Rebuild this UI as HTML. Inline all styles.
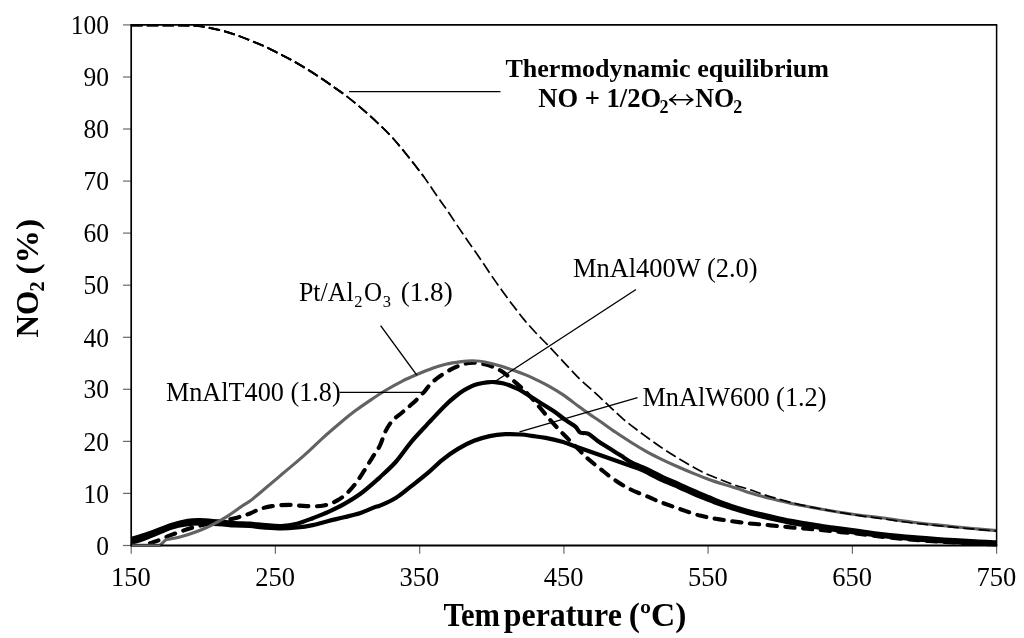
<!DOCTYPE html>
<html><head><meta charset="utf-8"><title>NO2 chart</title>
<style>
html,body{margin:0;padding:0;background:#fff;}
body{width:1024px;height:638px;overflow:hidden;}
svg{display:block;filter:grayscale(1);}
text{font-family:"Liberation Serif",serif;fill:#000;}
.tk{font-size:25px;}
.lb{font-size:25px;}
.bd{font-weight:bold;}
</style></head><body>
<svg width="1024" height="638" viewBox="0 0 1024 638">
<rect width="1024" height="638" fill="#fff"/>
<line x1="123" y1="545.5" x2="131.2" y2="545.5" stroke="#6a6a6a" stroke-width="1.2"/>
<line x1="123" y1="493.4" x2="131.2" y2="493.4" stroke="#6a6a6a" stroke-width="1.2"/>
<line x1="123" y1="441.4" x2="131.2" y2="441.4" stroke="#6a6a6a" stroke-width="1.2"/>
<line x1="123" y1="389.3" x2="131.2" y2="389.3" stroke="#6a6a6a" stroke-width="1.2"/>
<line x1="123" y1="337.3" x2="131.2" y2="337.3" stroke="#6a6a6a" stroke-width="1.2"/>
<line x1="123" y1="285.2" x2="131.2" y2="285.2" stroke="#6a6a6a" stroke-width="1.2"/>
<line x1="123" y1="233.1" x2="131.2" y2="233.1" stroke="#6a6a6a" stroke-width="1.2"/>
<line x1="123" y1="181.1" x2="131.2" y2="181.1" stroke="#6a6a6a" stroke-width="1.2"/>
<line x1="123" y1="129.0" x2="131.2" y2="129.0" stroke="#6a6a6a" stroke-width="1.2"/>
<line x1="123" y1="77.0" x2="131.2" y2="77.0" stroke="#6a6a6a" stroke-width="1.2"/>
<line x1="123" y1="24.9" x2="131.2" y2="24.9" stroke="#6a6a6a" stroke-width="1.2"/>
<line x1="131.2" y1="545.5" x2="131.2" y2="553.7" stroke="#6a6a6a" stroke-width="1.2"/>
<line x1="275.4" y1="545.5" x2="275.4" y2="553.7" stroke="#6a6a6a" stroke-width="1.2"/>
<line x1="419.7" y1="545.5" x2="419.7" y2="553.7" stroke="#6a6a6a" stroke-width="1.2"/>
<line x1="563.9" y1="545.5" x2="563.9" y2="553.7" stroke="#6a6a6a" stroke-width="1.2"/>
<line x1="708.1" y1="545.5" x2="708.1" y2="553.7" stroke="#6a6a6a" stroke-width="1.2"/>
<line x1="852.4" y1="545.5" x2="852.4" y2="553.7" stroke="#6a6a6a" stroke-width="1.2"/>
<line x1="996.6" y1="545.5" x2="996.6" y2="553.7" stroke="#6a6a6a" stroke-width="1.2"/>
<g fill="none" stroke-linejoin="round">
<path d="M131.5,543.0C134.3,542.0 141.8,539.6 148.5,537.0C155.2,534.4 165.5,529.6 172.0,527.5C178.5,525.4 183.0,524.9 187.7,524.2C192.4,523.5 194.8,523.5 200.0,523.5C205.2,523.5 213.2,523.9 219.0,524.2C224.8,524.5 229.5,525.2 234.7,525.5C239.9,525.8 244.8,525.6 250.0,526.0C255.2,526.4 260.5,527.2 265.7,527.6C270.9,528.0 276.1,528.4 281.3,528.4C286.5,528.4 291.8,528.0 297.0,527.5C302.2,527.0 307.5,526.2 312.7,525.1C317.9,524.0 323.2,522.3 328.4,521.0C333.6,519.7 338.8,518.6 344.0,517.3C349.2,516.0 354.5,515.0 359.7,513.3C364.9,511.6 372.0,508.2 375.4,506.9C378.8,505.6 376.6,507.2 380.0,505.7C383.4,504.2 390.5,501.2 395.7,498.0C400.9,494.8 406.1,490.2 411.3,486.2C416.5,482.1 421.8,478.1 427.0,473.7C432.2,469.3 437.5,463.8 442.7,459.6C447.9,455.4 453.2,451.7 458.4,448.6C463.6,445.5 468.8,442.9 474.0,440.8C479.2,438.7 484.5,437.2 489.7,436.1C494.9,435.0 500.2,434.5 505.4,434.2C510.6,433.9 516.6,434.2 521.0,434.5C525.4,434.8 527.8,435.3 531.9,435.9C536.0,436.5 540.8,437.0 545.7,437.9C550.6,438.8 556.1,440.0 561.3,441.5C566.5,443.0 571.8,445.2 577.0,447.0C582.2,448.8 587.5,450.7 592.7,452.5C597.9,454.3 603.2,456.2 608.4,458.0C613.6,459.8 618.8,461.7 624.0,463.5C629.2,465.3 635.4,467.2 639.7,469.0C644.0,470.8 646.1,472.1 650.0,474.0C653.9,475.9 658.4,478.5 663.2,480.7C668.0,482.9 673.8,485.0 678.9,487.2C684.0,489.4 688.9,491.8 694.0,494.0C699.1,496.2 706.1,498.7 709.7,500.2C713.3,501.7 712.1,501.5 715.7,502.8C719.3,504.1 726.1,506.4 731.3,508.0C736.5,509.6 741.8,511.3 747.0,512.7C752.2,514.1 757.5,515.4 762.7,516.6C767.9,517.9 773.2,519.1 778.4,520.2C783.6,521.3 788.8,522.4 794.0,523.4C799.2,524.4 804.5,525.1 809.7,526.0C814.9,526.9 820.2,527.9 825.4,528.7C830.6,529.5 835.3,530.0 841.0,530.7C846.7,531.4 853.1,532.2 859.8,533.1C866.5,534.0 872.5,535.0 881.3,536.0C890.1,537.0 902.2,538.3 912.7,539.2C923.2,540.1 933.5,540.8 944.0,541.5C954.5,542.2 966.6,542.9 975.4,543.4C984.2,543.9 993.2,544.1 996.8,544.3" stroke="#000" stroke-width="4.2"/>
<path d="M131.5,539.0C134.3,538.1 141.8,535.9 148.5,533.5C155.2,531.1 165.5,526.8 172.0,524.7C178.5,522.6 183.0,521.6 187.7,520.8C192.4,520.0 194.8,519.9 200.0,520.0C205.2,520.1 213.2,521.1 219.0,521.6C224.8,522.1 229.5,522.6 234.7,523.0C239.9,523.4 244.8,523.3 250.0,523.7C255.2,524.1 260.5,524.8 265.7,525.2C270.9,525.6 276.1,526.2 281.3,526.0C286.5,525.8 291.8,525.0 297.0,523.7C302.2,522.4 307.5,520.2 312.7,518.2C317.9,516.2 323.2,514.2 328.4,511.9C333.6,509.5 338.8,507.0 344.0,504.1C349.2,501.2 354.5,498.1 359.7,494.3C364.9,490.5 372.0,484.2 375.4,481.3C378.8,478.4 376.6,480.4 380.0,477.2C383.4,474.0 390.5,467.9 395.7,462.0C400.9,456.1 406.1,448.1 411.3,441.9C416.5,435.7 423.6,428.4 427.0,424.7C430.4,421.0 428.5,423.0 431.6,419.7C434.7,416.4 441.9,408.7 445.7,405.0C449.4,401.3 451.1,399.9 454.1,397.5C457.1,395.1 460.6,392.5 463.5,390.6C466.4,388.7 468.7,387.5 471.3,386.3C473.9,385.1 476.6,384.4 479.2,383.7C481.8,383.0 484.4,382.6 487.0,382.3C489.6,382.0 492.3,381.9 494.9,382.1C497.5,382.3 500.1,382.7 502.7,383.3C505.3,383.9 507.9,384.7 510.5,385.7C513.1,386.7 516.1,388.1 518.4,389.2C520.6,390.3 520.5,390.3 524.0,392.5C527.5,394.7 534.6,399.1 539.5,402.2C544.4,405.3 549.1,408.0 553.5,411.0C557.9,414.0 562.4,417.8 566.0,420.4C569.6,423.0 573.0,424.6 575.4,426.6C577.8,428.6 578.0,431.3 580.1,432.5C582.2,433.7 585.1,432.3 588.0,433.7C590.9,435.1 594.0,438.3 597.4,440.7C600.8,443.1 604.5,445.3 608.4,447.8C612.3,450.3 617.0,453.1 620.9,455.6C624.8,458.1 627.5,460.4 631.9,462.7C636.3,465.0 642.3,466.9 647.5,469.4C652.7,471.8 658.0,474.9 663.2,477.4C668.4,479.8 673.8,481.8 678.9,484.1C684.0,486.4 688.9,488.8 694.0,491.0C699.1,493.2 706.1,496.0 709.7,497.5C713.3,499.0 712.1,498.8 715.7,500.2C719.3,501.6 726.1,504.2 731.3,506.0C736.5,507.8 741.8,509.3 747.0,510.7C752.2,512.1 757.5,513.4 762.7,514.6C767.9,515.9 773.2,517.1 778.4,518.2C783.6,519.3 788.8,520.4 794.0,521.4C799.2,522.4 804.5,523.1 809.7,524.0C814.9,524.9 820.2,525.9 825.4,526.7C830.6,527.5 835.3,528.0 841.0,528.7C846.7,529.4 853.1,530.2 859.8,531.1C866.5,532.0 872.5,533.0 881.3,534.0C890.1,535.0 902.2,536.3 912.7,537.2C923.2,538.1 933.5,538.8 944.0,539.5C954.5,540.2 966.6,540.9 975.4,541.4C984.2,541.9 993.2,542.1 996.8,542.3" stroke="#000" stroke-width="4.2"/>
<clipPath id="cA"><rect x="0" y="0" width="214" height="638"/></clipPath><clipPath id="cB"><rect x="214" y="0" width="810" height="638"/></clipPath>
<path d="M145.0,544.5C146.9,543.9 151.8,542.5 156.3,540.9C160.8,539.3 166.0,536.9 172.0,534.7C178.0,532.5 185.6,529.6 192.4,527.6C199.2,525.6 205.8,524.5 212.8,522.9C219.9,521.3 228.5,519.8 234.7,518.2C240.9,516.6 245.9,515.0 250.0,513.5C254.1,512.0 255.7,510.4 259.4,509.2C263.0,508.0 266.9,506.8 271.9,506.1C276.9,505.4 283.4,504.9 289.2,504.9C294.9,504.9 300.6,506.0 306.4,506.1C312.1,506.2 318.5,506.6 323.7,505.6C328.9,504.6 333.6,502.5 337.8,500.1C342.0,497.8 345.6,494.5 348.7,491.5C351.8,488.5 354.0,485.6 356.6,482.1C359.2,478.6 361.8,474.4 364.4,470.4C367.0,466.3 369.6,461.9 372.2,457.8C374.8,453.7 377.7,450.0 379.9,445.6C382.1,441.2 383.3,435.7 385.4,431.5C387.5,427.3 389.8,423.6 392.5,420.5C395.2,417.4 398.5,415.6 401.9,412.7C405.3,409.8 409.1,406.7 412.8,403.3C416.5,399.9 420.9,395.4 423.8,392.3C426.7,389.2 427.5,387.1 430.1,384.5C432.7,381.9 435.6,379.2 439.5,376.5C443.4,373.8 448.6,370.5 453.5,368.2C458.4,365.9 464.0,363.5 469.2,362.9C474.4,362.2 479.7,363.0 484.9,364.3C490.1,365.6 495.3,367.5 500.5,370.6C505.7,373.7 511.8,379.3 516.2,383.1C520.7,386.9 523.3,389.2 527.2,393.3C531.1,397.4 535.6,402.6 539.7,407.4C543.8,412.2 547.8,417.2 551.9,421.9C556.0,426.5 560.3,431.0 564.5,435.3C568.7,439.6 573.1,443.9 577.0,447.8C580.9,451.7 584.1,455.3 588.0,458.8C591.9,462.3 596.1,465.5 600.5,469.0C604.9,472.5 609.6,476.5 614.6,479.9C619.6,483.3 624.5,486.4 630.3,489.3C636.0,492.2 644.1,495.1 649.1,497.2C654.1,499.3 655.1,500.0 660.3,502.0C665.5,504.0 673.8,506.9 680.4,509.2C687.0,511.5 694.1,514.0 700.0,515.6C705.9,517.2 710.5,517.9 715.7,518.8C720.9,519.7 726.1,520.4 731.3,521.1C736.5,521.8 741.8,522.6 747.0,523.2C752.2,523.8 757.5,524.1 762.7,524.6C767.9,525.1 773.2,525.6 778.4,526.1C783.6,526.6 788.8,527.2 794.0,527.7C799.2,528.2 804.5,528.5 809.7,529.0C814.9,529.5 820.2,530.0 825.4,530.5C830.6,531.0 835.3,531.5 841.0,532.1C846.7,532.7 853.1,533.2 859.8,534.0C866.5,534.8 872.5,535.7 881.3,536.7C890.1,537.7 902.2,538.9 912.7,539.8C923.2,540.7 933.5,541.4 944.0,542.0C954.5,542.6 966.6,543.2 975.4,543.6C984.2,544.0 993.2,544.2 996.8,544.3" stroke="#000" stroke-width="4.1" stroke-dasharray="9.3 8.5" stroke-linecap="round" clip-path="url(#cB)"/>
<path d="M150.0,543.3C151.1,542.9 152.6,542.6 156.3,541.2C160.0,539.8 166.0,537.0 172.0,534.7C178.0,532.4 185.6,529.6 192.4,527.6C199.2,525.6 205.8,524.5 212.8,522.9C219.9,521.3 231.0,519.0 234.7,518.2" stroke="#000" stroke-width="4.1" stroke-dasharray="9.3 8.5" stroke-linecap="round" clip-path="url(#cA)"/>
<path d="M131.5,545.4 L160.0,545.4 L165.7,539.8 L165.7,539.8C168.1,539.3 174.9,538.3 179.9,537.0C184.9,535.7 190.3,534.0 195.5,532.0C200.7,530.0 206.0,527.9 211.2,525.3C216.4,522.7 221.7,519.9 226.9,516.6C232.1,513.3 238.7,508.3 242.5,505.7C246.3,503.1 246.1,503.9 250.0,501.0C253.9,498.1 260.5,492.4 265.7,488.0C270.9,483.6 276.1,479.2 281.3,474.8C286.5,470.4 292.3,465.6 297.0,461.6C301.7,457.6 305.0,454.7 309.4,450.6C313.8,446.6 318.5,441.8 323.5,437.3C328.5,432.8 334.0,428.1 339.2,423.7C344.4,419.3 349.7,415.0 354.9,411.1C360.1,407.2 365.3,403.6 370.5,400.1C375.7,396.6 381.0,393.1 386.2,390.0C391.4,386.9 396.7,383.9 401.9,381.3C407.1,378.7 412.3,376.5 417.5,374.3C422.7,372.1 428.5,369.7 433.2,368.0C437.9,366.3 441.0,365.4 445.7,364.3C450.4,363.2 456.9,362.2 461.3,361.6C465.7,361.0 468.4,360.8 472.3,360.8C476.2,360.9 480.2,361.0 484.9,361.9C489.6,362.8 495.3,364.3 500.5,365.9C505.7,367.5 511.0,369.4 516.2,371.3C521.4,373.2 526.7,375.2 531.9,377.6C537.1,380.0 542.3,382.5 547.5,385.4C552.7,388.3 558.0,391.4 563.2,394.9C568.4,398.4 574.5,403.4 578.9,406.6C583.3,409.9 586.3,412.0 589.8,414.4C593.3,416.8 595.7,418.2 600.0,421.2C604.3,424.2 610.5,428.8 615.7,432.3C620.9,435.9 626.1,439.2 631.3,442.5C636.5,445.8 641.8,448.9 647.0,451.8C652.2,454.7 657.5,457.3 662.7,459.8C667.9,462.3 673.2,464.7 678.4,467.0C683.6,469.3 688.8,471.5 694.0,473.6C699.2,475.7 704.5,477.8 709.7,479.7C714.9,481.6 720.2,483.2 725.4,484.9C730.6,486.6 737.4,488.6 741.0,489.8C744.6,491.0 743.4,491.0 747.0,492.1C750.6,493.2 757.5,495.0 762.7,496.4C767.9,497.8 773.2,499.1 778.4,500.4C783.6,501.6 788.8,502.8 794.0,503.9C799.2,505.0 804.5,506.0 809.7,507.0C814.9,508.0 820.2,508.9 825.4,509.8C830.6,510.7 835.3,511.6 841.0,512.5C846.7,513.4 853.1,514.3 859.8,515.2C866.5,516.1 872.5,516.6 881.3,517.8C890.1,519.0 902.2,520.9 912.7,522.2C923.2,523.5 933.5,524.5 944.0,525.6C954.5,526.7 966.6,528.0 975.4,528.8C984.2,529.6 993.2,530.3 996.8,530.6" stroke="#626262" stroke-width="3.1"/>
<path d="M131.5,25.4C137.9,25.4 160.2,25.4 170.0,25.4C179.8,25.4 184.8,25.5 190.0,25.6C195.2,25.8 195.8,25.5 201.2,26.3C206.6,27.1 216.3,29.2 222.3,30.7C228.3,32.2 232.4,33.7 237.2,35.4C242.0,37.1 246.5,38.9 251.3,40.9C256.1,42.9 261.4,44.9 266.2,47.1C271.0,49.3 275.7,51.9 280.3,54.2C284.9,56.6 289.2,58.7 293.6,61.2C298.0,63.7 302.4,66.3 306.9,69.1C311.3,71.8 316.0,74.8 320.3,77.7C324.6,80.6 328.6,83.3 332.8,86.3C337.0,89.3 340.9,91.8 345.7,95.5C350.4,99.2 356.1,103.7 361.3,108.2C366.5,112.7 371.8,117.3 377.0,122.3C382.2,127.3 387.5,132.2 392.7,138.0C397.9,143.8 403.2,150.3 408.4,156.8C413.6,163.3 419.4,170.7 424.0,177.0C428.6,183.3 432.2,189.0 436.0,194.5C439.8,200.0 443.3,204.8 447.0,210.1C450.7,215.4 454.3,221.1 458.0,226.6C461.7,232.1 465.4,237.6 469.2,243.0C472.9,248.4 476.8,253.8 480.5,259.2C484.2,264.6 487.7,270.0 491.3,275.3C494.9,280.6 498.6,285.8 502.3,290.9C506.0,296.0 509.6,301.0 513.3,305.8C517.0,310.6 520.6,315.4 524.3,319.9C528.0,324.3 531.5,328.2 535.5,332.5C539.5,336.8 543.5,340.5 548.2,345.5C552.9,350.5 558.7,356.8 563.9,362.3C569.1,367.9 574.4,373.7 579.6,378.8C584.8,383.9 590.2,388.3 595.2,392.9C600.2,397.5 604.8,401.9 609.5,406.3C614.2,410.7 618.5,415.1 623.5,419.3C628.5,423.5 634.0,427.6 639.2,431.5C644.4,435.4 649.7,439.3 654.9,443.0C660.1,446.7 665.3,450.2 670.5,453.5C675.7,456.8 681.0,459.9 686.2,463.0C691.4,466.1 696.7,469.2 701.9,471.8C707.1,474.4 712.3,476.3 717.5,478.4C722.7,480.5 728.0,482.7 733.2,484.5C738.4,486.3 744.0,487.7 748.9,489.3C753.8,490.9 757.8,492.6 762.7,494.2C767.6,495.8 773.2,497.5 778.4,499.0C783.6,500.5 788.8,501.9 794.0,503.2C799.2,504.5 804.5,505.7 809.7,506.8C814.9,507.9 820.2,508.8 825.4,509.8C830.6,510.8 835.3,511.7 841.0,512.7C846.7,513.7 853.1,514.7 859.8,515.7C866.5,516.7 872.5,517.4 881.3,518.6C890.1,519.8 902.2,521.7 912.7,523.0C923.2,524.3 933.5,525.2 944.0,526.3C954.5,527.3 966.6,528.5 975.4,529.3C984.2,530.1 993.2,530.7 996.8,531.0" stroke="#000" stroke-width="1.7" stroke-dasharray="11.3 4.2"/>
<path d="M131.5,25.4C137.9,25.4 160.2,25.4 170.0,25.4C179.8,25.4 184.8,25.5 190.0,25.6C195.2,25.8 195.8,25.5 201.2,26.3C206.6,27.1 216.3,29.2 222.3,30.7C228.3,32.2 232.4,33.7 237.2,35.4C242.0,37.1 246.5,38.9 251.3,40.9C256.1,42.9 261.4,44.9 266.2,47.1C271.0,49.3 275.7,51.9 280.3,54.2C284.9,56.6 289.2,58.7 293.6,61.2C298.0,63.7 302.4,66.3 306.9,69.1C311.3,71.8 316.0,74.8 320.3,77.7C324.6,80.6 328.6,83.3 332.8,86.3C337.0,89.3 340.9,91.8 345.7,95.5C350.4,99.2 356.1,103.7 361.3,108.2C366.5,112.7 371.8,117.3 377.0,122.3C382.2,127.3 387.5,132.2 392.7,138.0C397.9,143.8 403.2,150.3 408.4,156.8C413.6,163.3 421.4,173.6 424.0,177.0" stroke="#000" stroke-width="1.85" stroke-dasharray="11.3 4.2"/>
<path d="M131.5,25.4C137.9,25.4 160.2,25.4 170.0,25.4C179.8,25.4 184.8,25.5 190.0,25.6C195.2,25.8 195.8,25.5 201.2,26.3C206.6,27.1 216.3,29.2 222.3,30.7C228.3,32.2 232.4,33.7 237.2,35.4C242.0,37.1 246.5,38.9 251.3,40.9C256.1,42.9 261.4,44.9 266.2,47.1C271.0,49.3 275.7,51.9 280.3,54.2C284.9,56.6 289.2,58.7 293.6,61.2C298.0,63.7 302.4,66.3 306.9,69.1C311.3,71.8 316.0,74.8 320.3,77.7C324.6,80.6 328.6,83.3 332.8,86.3C337.0,89.3 343.6,94.0 345.7,95.5" stroke="#000" stroke-width="2.00" stroke-dasharray="11.3 4.2"/>
</g>
<g stroke="#000" fill="none">
<line x1="130.4" y1="24.9" x2="997.3" y2="24.9" stroke-width="1.8"/>
<line x1="130.4" y1="545.5" x2="997.3" y2="545.5" stroke-width="1.9"/>
<line x1="131.2" y1="24.9" x2="131.2" y2="545.5" stroke-width="1.7"/>
<line x1="996.6" y1="24.9" x2="996.6" y2="545.5" stroke-width="1.5"/>
<line x1="132" y1="545.6" x2="160.5" y2="545.6" stroke="#6a6a6a" stroke-width="1.6"/>
<g stroke-width="1.4">
<line x1="349.1" y1="91.6" x2="500.5" y2="91.6"/>
<line x1="380.6" y1="325.6" x2="416.8" y2="375.1"/>
<line x1="339.5" y1="392.4" x2="423.8" y2="392.4"/>
<line x1="636.0" y1="289.5" x2="495.0" y2="381.5"/>
<line x1="637.5" y1="397.6" x2="519.5" y2="431.8"/>
</g></g>
<text x="96.15" y="554.7" class="tk" textLength="12.75" lengthAdjust="spacingAndGlyphs" transform="matrix(1 0 0 1.120 0 -66.564)">0</text>
<text x="83.40" y="502.6" class="tk" textLength="25.50" lengthAdjust="spacingAndGlyphs" transform="matrix(1 0 0 1.120 0 -60.317)">10</text>
<text x="83.40" y="450.6" class="tk" textLength="25.50" lengthAdjust="spacingAndGlyphs" transform="matrix(1 0 0 1.120 0 -54.070)">20</text>
<text x="83.40" y="398.5" class="tk" textLength="25.50" lengthAdjust="spacingAndGlyphs" transform="matrix(1 0 0 1.120 0 -47.822)">30</text>
<text x="83.40" y="346.5" class="tk" textLength="25.50" lengthAdjust="spacingAndGlyphs" transform="matrix(1 0 0 1.120 0 -41.575)">40</text>
<text x="83.40" y="294.4" class="tk" textLength="25.50" lengthAdjust="spacingAndGlyphs" transform="matrix(1 0 0 1.120 0 -35.328)">50</text>
<text x="83.40" y="242.3" class="tk" textLength="25.50" lengthAdjust="spacingAndGlyphs" transform="matrix(1 0 0 1.120 0 -29.081)">60</text>
<text x="83.40" y="190.3" class="tk" textLength="25.50" lengthAdjust="spacingAndGlyphs" transform="matrix(1 0 0 1.120 0 -22.834)">70</text>
<text x="83.40" y="138.2" class="tk" textLength="25.50" lengthAdjust="spacingAndGlyphs" transform="matrix(1 0 0 1.120 0 -16.586)">80</text>
<text x="83.40" y="86.2" class="tk" textLength="25.50" lengthAdjust="spacingAndGlyphs" transform="matrix(1 0 0 1.120 0 -10.339)">90</text>
<text x="70.65" y="34.1" class="tk" textLength="38.25" lengthAdjust="spacingAndGlyphs" transform="matrix(1 0 0 1.120 0 -4.092)">100</text>
<text x="111.02" y="585.7" class="tk" textLength="39.75" lengthAdjust="spacingAndGlyphs" transform="matrix(1 0 0 1.120 0 -70.284)">150</text>
<text x="255.26" y="585.7" class="tk" textLength="39.75" lengthAdjust="spacingAndGlyphs" transform="matrix(1 0 0 1.120 0 -70.284)">250</text>
<text x="399.49" y="585.7" class="tk" textLength="39.75" lengthAdjust="spacingAndGlyphs" transform="matrix(1 0 0 1.120 0 -70.284)">350</text>
<text x="543.73" y="585.7" class="tk" textLength="39.75" lengthAdjust="spacingAndGlyphs" transform="matrix(1 0 0 1.120 0 -70.284)">450</text>
<text x="687.96" y="585.7" class="tk" textLength="39.75" lengthAdjust="spacingAndGlyphs" transform="matrix(1 0 0 1.120 0 -70.284)">550</text>
<text x="832.19" y="585.7" class="tk" textLength="39.75" lengthAdjust="spacingAndGlyphs" transform="matrix(1 0 0 1.120 0 -70.284)">650</text>
<text x="976.43" y="585.7" class="tk" textLength="39.75" lengthAdjust="spacingAndGlyphs" transform="matrix(1 0 0 1.120 0 -70.284)">750</text>
<text x="505.39" y="76.9" font-size="25" font-weight="bold" textLength="323.53" lengthAdjust="spacingAndGlyphs" transform="matrix(1 0 0 1.020 0 -1.538)">Thermodynamic equilibrium</text>
<text x="443.42" y="626.2" font-size="32" font-weight="bold" textLength="56.63" lengthAdjust="spacingAndGlyphs" transform="matrix(1 0 0 1.020 0 -12.524)">Tem</text>
<text x="503.80" y="626.2" font-size="32" font-weight="bold" textLength="118.00" lengthAdjust="spacingAndGlyphs" transform="matrix(1 0 0 1.020 0 -12.524)">perature</text>
<text x="628.75" y="626.2" font-size="32" font-weight="bold" textLength="57.66" lengthAdjust="spacingAndGlyphs" transform="matrix(1 0 0 1.020 0 -12.524)">(&#186;C)</text>
<text x="538.18" y="106.6" font-size="25" font-weight="bold" textLength="122.97" lengthAdjust="spacingAndGlyphs" transform="matrix(1 0 0 1.050 0 -5.330)">NO + 1/2O</text>
<text x="659.50" y="113.0" font-size="18" font-weight="bold" textLength="9.00" lengthAdjust="spacingAndGlyphs" transform="matrix(1 0 0 1.050 0 -5.650)">2</text>
<text x="695.19" y="106.6" font-size="25" font-weight="bold" textLength="38.93" lengthAdjust="spacingAndGlyphs" transform="matrix(1 0 0 1.050 0 -5.330)">NO</text>
<text x="733.20" y="113.0" font-size="18" font-weight="bold" textLength="9.00" lengthAdjust="spacingAndGlyphs" transform="matrix(1 0 0 1.050 0 -5.650)">2</text>
<text x="298.90" y="301.4" font-size="25" textLength="54.72" lengthAdjust="spacingAndGlyphs" transform="matrix(1 0 0 1.050 0 -15.070)">Pt/Al</text>
<text x="354.32" y="307.0" font-size="16.5" textLength="8.25" lengthAdjust="spacingAndGlyphs" transform="matrix(1 0 0 1.050 0 -15.350)">2</text>
<text x="364.07" y="301.4" font-size="25" textLength="18.06" lengthAdjust="spacingAndGlyphs" transform="matrix(1 0 0 1.050 0 -15.070)">O</text>
<text x="382.76" y="307.0" font-size="16.5" textLength="8.26" lengthAdjust="spacingAndGlyphs" transform="matrix(1 0 0 1.050 0 -15.350)">3</text>
<text x="400.75" y="301.4" font-size="25" textLength="51.93" lengthAdjust="spacingAndGlyphs" transform="matrix(1 0 0 1.050 0 -15.070)">(1.8)</text>
<text x="165.89" y="401.4" font-size="25" textLength="174.76" lengthAdjust="spacingAndGlyphs" transform="matrix(1 0 0 1.050 0 -20.070)">MnAlT400 (1.8)</text>
<text x="572.89" y="277.1" font-size="25" textLength="184.77" lengthAdjust="spacingAndGlyphs" transform="matrix(1 0 0 1.050 0 -13.855)">MnAl400W (2.0)</text>
<text x="642.39" y="405.8" font-size="25" textLength="184.16" lengthAdjust="spacingAndGlyphs" transform="matrix(1 0 0 1.050 0 -20.290)">MnAlW600 (1.2)</text>
<g stroke="#000" stroke-width="1.5" fill="none" stroke-linecap="round" stroke-linejoin="round"><path d="M670,99.7H692.5M675.6,94.9Q673.5,98 669.6,99.7Q673.5,101.4 675.6,104.5M686.9,94.9Q689,98 692.9,99.7Q689,101.4 686.9,104.5"/></g>
<g transform="translate(38.0,337) rotate(-90)"><text x="-0.49" y="0.0" font-size="32" font-weight="bold" textLength="46.74" lengthAdjust="spacingAndGlyphs">NO</text>
<text x="45.50" y="6.2" font-size="20" font-weight="bold" textLength="10.00" lengthAdjust="spacingAndGlyphs">2</text>
<text x="62.46" y="0.0" font-size="32" font-weight="bold" textLength="55.55" lengthAdjust="spacingAndGlyphs">(%)</text>
</g>
</svg>
</body></html>
